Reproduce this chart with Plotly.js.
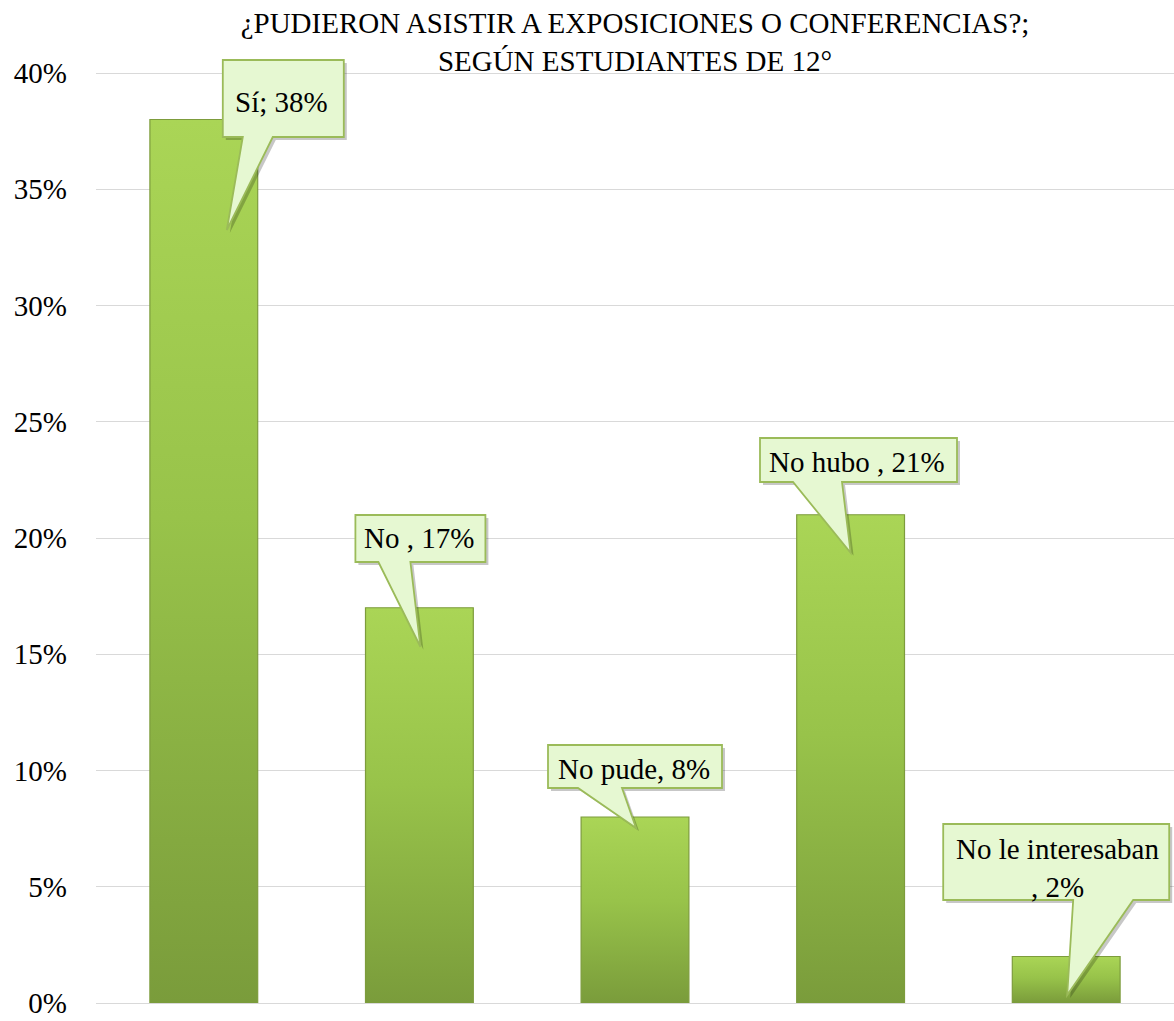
<!DOCTYPE html>
<html>
<head>
<meta charset="utf-8">
<script src="https://cdn.plot.ly/plotly-3.0.1.min.js"></script>
<style>html,body{margin:0;padding:0;background:#fff;}</style>
</head>
<body>
<div id="chart" style="width:1174px;height:1021px;"></div>
<script>
// ---- data ----
const categories = ['Sí', 'No ', 'No pude', 'No hubo ', 'No le interesaban'];
const values = [38, 17, 8, 21, 2];
const separators = ['; ', ', ', ', ', ', ', '<br>, '];
const tickValues = [0, 5, 10, 15, 20, 25, 30, 35, 40];
const tickLabels = ['0%', '5%', '10%', '15%', '20%', '25%', '30%', '35%', '40%'];
const titleText = '¿PUDIERON ASISTIR A EXPOSICIONES O CONFERENCIAS?;<br>SEGÚN ESTUDIANTES DE 12°';

// ---- callout geometry (pixels relative to each bar's top centre; y up) ----
const callouts = [
  {L: 19,    R: 140,   T: 59.5,  B: -17.5, bL: 39,    bR: 69,   tx: 23, ty: -110.5, textX: 78, textY: 18},
  {L: -64,   R: 66,    T: 92.75, B: 45.75, bL: -41,   bR: -9,   tx: 1,  ty: -39,    textX: 0,  textY: 70},
  {L: -87,   R: 87,    T: 72,    B: 29,    bL: -57,   bR: -13,  tx: 1,  ty: -11,    textX: -1, textY: 48},
  {L: -90.6, R: 106.4, T: 76.75, B: 32.75, bL: -57.6, bR: -8.6, tx: 0,  ty: -38,    textX: 6,  textY: 53},
  {L: -123,  R: 103,   T: 132.5, B: 56.5,  bL: 7,     bR: 67,   tx: 1,  ty: -38.5,  textX: -9, textY: 89}
];

const FONT = 'Liberation Serif';
const xPos = categories.map((c, i) => i);

function calloutPath(c, dx, dy) {
  const p = (x, y) => (x + dx) + ',' + (y + dy);
  return 'M' + p(c.L, c.T) + ' L' + p(c.R, c.T) + ' L' + p(c.R, c.B) +
         ' L' + p(c.bR, c.B) + ' L' + p(c.tx, c.ty) + ' L' + p(c.bL, c.B) +
         ' L' + p(c.L, c.B) + ' Z';
}

const shapes = [];
const annotations = [];
callouts.forEach((c, i) => {
  const base = {type: 'path', xref: 'x', yref: 'y', xsizemode: 'pixel', ysizemode: 'pixel',
                xanchor: xPos[i], yanchor: values[i], layer: 'above'};
  shapes.push(Object.assign({}, base, {path: calloutPath(c, 3, -3), fillcolor: 'rgba(0,0,0,0.22)', line: {width: 0}}));
  shapes.push(Object.assign({}, base, {path: calloutPath(c, 0, 0), fillcolor: '#e6f8d2', line: {color: '#9bbb59', width: 1.8}}));
  annotations.push({
    x: xPos[i], y: values[i], xref: 'x', yref: 'y',
    xshift: c.textX, yshift: c.textY,
    xanchor: 'center', yanchor: 'middle',
    text: categories[i] + separators[i] + values[i] + '%',
    showarrow: false,
    font: {family: FONT, size: 29, color: '#000'}
  });
});

const trace = {
  type: 'bar',
  x: xPos,
  y: values,
  width: 0.5,
  marker: {color: '#93bb45', line: {color: '#7d9c3c', width: 1.2}},
  hoverinfo: 'skip'
};

const layout = {
  width: 1174, height: 1021,
  margin: {l: 96, r: 0, t: 50, b: 18},
  paper_bgcolor: '#fff', plot_bgcolor: '#fff',
  showlegend: false,
  font: {family: FONT, color: '#000'},
  title: {
    text: titleText,
    font: {family: FONT, size: 29, color: '#000'},
    x: 0.5, xref: 'paper', xanchor: 'center',
    y: 1 - 33 / 1021, yref: 'container', yanchor: 'top'
  },
  xaxis: {
    range: [-0.5, 4.5], showticklabels: false, showgrid: false,
    zeroline: false, showline: false, ticks: '', fixedrange: true
  },
  yaxis: {
    range: [0, 953 / 23.25],
    tickvals: tickValues, ticktext: tickLabels,
    tickfont: {family: FONT, size: 29, color: '#000'},
    showgrid: true, gridcolor: '#d9d9d9', gridwidth: 1,
    zeroline: true, zerolinecolor: '#d9d9d9', zerolinewidth: 1,
    showline: false, ticks: '', ticklabelstandoff: 28, fixedrange: true
  },
  shapes: shapes,
  annotations: annotations
};

const gd = document.getElementById('chart');
Plotly.newPlot(gd, [trace], layout, {displayModeBar: false, staticPlot: true}).then(() => {
  const svg = gd.querySelector('svg.main-svg');
  const ns = 'http://www.w3.org/2000/svg';
  let defs = svg.querySelector('defs');
  if (!defs) { defs = document.createElementNS(ns, 'defs'); svg.insertBefore(defs, svg.firstChild); }
  const mk = (id, stops) => {
    const g = document.createElementNS(ns, 'linearGradient');
    g.setAttribute('id', id);
    g.setAttribute('x1', '0'); g.setAttribute('y1', '0');
    g.setAttribute('x2', '0'); g.setAttribute('y2', '1');
    stops.forEach(([o, c]) => {
      const s = document.createElementNS(ns, 'stop');
      s.setAttribute('offset', o); s.setAttribute('stop-color', c);
      g.appendChild(s);
    });
    defs.appendChild(g);
  };
  mk('barGrad', [['0', '#aad556'], ['0.45', '#98c34a'], ['1', '#7a9c3b']]);
  gd.querySelectorAll('.trace.bars .point path').forEach(p => { p.style.fill = 'url(#barGrad)'; });
});
</script>
</body>
</html>
